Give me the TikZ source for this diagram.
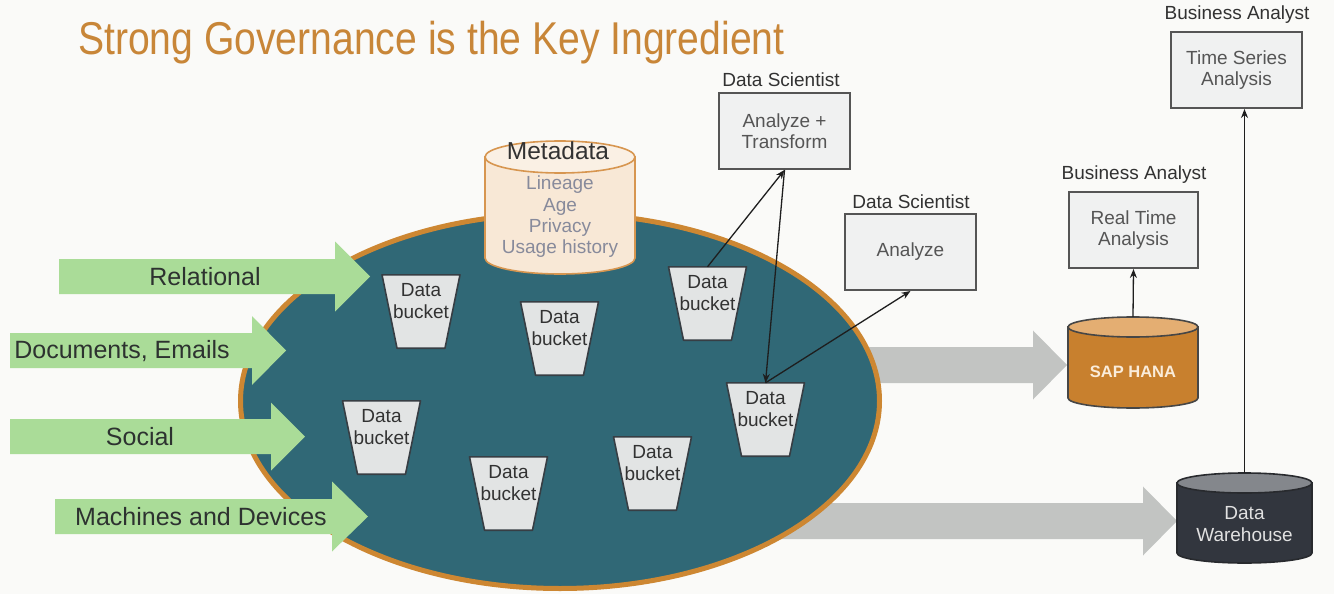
\documentclass[tikz,border=0pt]{standalone}
\usepackage{fontspec}
\setmainfont{Liberation Sans}
\newfontfamily\titlefont[FakeStretch=0.85]{Liberation Sans}
\usetikzlibrary{arrows.meta}
\definecolor{bgc}{RGB}{250,250,248}
\definecolor{titlec}{RGB}{200,134,56}
\definecolor{lakefill}{RGB}{48,104,118}
\definecolor{lakeline}{RGB}{205,135,50}
\definecolor{metafill}{RGB}{248,232,214}
\definecolor{metatop}{RGB}{250,240,228}
\definecolor{metaline}{RGB}{215,150,80}
\definecolor{metatxt}{RGB}{135,138,155}
\definecolor{greenc}{RGB}{170,220,152}
\definecolor{grayarrow}{RGB}{194,196,194}
\definecolor{bucketfill}{RGB}{226,228,228}
\definecolor{bucketline}{RGB}{55,62,68}
\definecolor{boxfill}{RGB}{240,241,241}
\definecolor{boxline}{RGB}{85,85,85}
\definecolor{boxtxt}{RGB}{85,85,85}
\definecolor{roletxt}{RGB}{50,50,50}
\definecolor{darktxt}{RGB}{45,50,48}
\definecolor{hanafill}{RGB}{200,128,46}
\definecolor{hanatop}{RGB}{228,174,114}
\definecolor{hanaline}{RGB}{70,70,70}
\definecolor{hanatxt}{RGB}{250,236,218}
\definecolor{dwfill}{RGB}{50,54,62}
\definecolor{dwtop}{RGB}{132,135,140}
\definecolor{dwline}{RGB}{40,42,46}
\definecolor{dwtxt}{RGB}{225,225,225}
\definecolor{linkc}{RGB}{30,30,30}
\newcommand\blockarrow[7]{%
  \fill[#7] (#1,#4-#5) -- (#2,#4-#5) -- (#2,#4-#6) -- (#3,#4) -- (#2,#4+#6) -- (#2,#4+#5) -- (#1,#4+#5) -- cycle;}
\newcommand\cylshape[8]{%
  \filldraw[fill=#6, draw=#8, line width=1.6pt] (#1-#4,#2) -- (#1-#4,#3) arc[start angle=180,end angle=360,x radius=#4pt,y radius=#5pt] -- (#1+#4,#2) -- cycle;
  \filldraw[fill=#7, draw=#8, line width=1.6pt] (#1,#2) ellipse[x radius=#4pt, y radius=#5pt];}
\newcommand\dbucket[3]{%
  \node[bucketnode] (#1) at (#2,#3) {};
  \filldraw[bucketshape] ([xshift=-39pt]#1.north) -- ([xshift=39pt]#1.north) -- ([xshift=24pt]#1.south) -- ([xshift=-24pt]#1.south) -- cycle;
  \node[buckettext] at ([yshift=-26.5pt]#1.north) {Data\\bucket};}
\begin{document}
\begin{tikzpicture}[x=1pt,y=-1pt,
  small/.style={font=\fontsize{19}{21.5}\selectfont, align=center, inner sep=0pt},
  box/.style={small, text=boxtxt, draw=boxline, line width=2pt, fill=boxfill, minimum width=131, minimum height=76},
  role/.style={small, text=roletxt},
  feed/.style={font=\fontsize{25}{28}\selectfont, text=darktxt, inner sep=0pt},
  bucketnode/.style={inner sep=0pt, minimum width=78, minimum height=73},
  bucketshape/.style={fill=bucketfill, draw=bucketline, line width=1.6pt, line join=round},
  buckettext/.style={small, text=roletxt},
  holder/.style={inner sep=0pt},
  link/.style={draw=linkc, line width=1.3pt, -{Stealth[length=9pt,width=7pt]}}]
\useasboundingbox (0,0) rectangle (1334,594);
\fill[bgc] (0,0) rectangle (1334,594);
% title
\node[anchor=base west, inner sep=0pt, text=titlec, font=\titlefont\fontsize{46}{50}\selectfont] (title) at (78,55) {Strong Governance is the Key Ingredient};
% gray output arrows (behind the lake)
\blockarrow{820}{1033}{1067}{365}{18}{34.5}{grayarrow}
\blockarrow{760}{1143}{1177}{521}{18}{34.5}{grayarrow}
% lake
\filldraw[fill=lakefill, draw=lakeline, line width=5pt] (560,401) ellipse[x radius=319.5pt, y radius=187.5pt];
% metadata cylinder
\node[holder, minimum width=150, minimum height=134] (meta) at (560,207.5) {};
\cylshape{560}{157}{258}{75}{16}{metafill}{metatop}{metaline}
\node[inner sep=0pt, font=\fontsize{24.5}{27}\selectfont, text=roletxt] (metatitle) at (558,151) {Metadata};
\node[small, text=metatxt, font=\fontsize{19}{21.3}\selectfont] (metalist) at (560,217) {Lineage\\Age\\Privacy\\Usage history};
% green input arrows
\blockarrow{59}{335}{370}{276.5}{17.5}{35}{greenc}
\blockarrow{10}{252}{286}{350.5}{17.5}{34.5}{greenc}
\blockarrow{10}{271}{305}{436.5}{17.5}{34}{greenc}
\blockarrow{55}{332}{368}{516.5}{17.5}{35}{greenc}
\node[feed] (rel) at (205,277) {Relational};
\node[feed] (doc) at (122,351) {Documents, Emails};
\node[feed] (soc) at (140,437) {Social};
\node[feed] (mac) at (201,517) {Machines and Devices};
% data buckets
\dbucket{b1}{421}{311.5}
\dbucket{b2}{559.5}{338.5}
\dbucket{b3}{707.5}{303.5}
\dbucket{b4}{765.5}{419.5}
\dbucket{b5}{381.5}{437.5}
\dbucket{b6}{508.5}{493.5}
\dbucket{b7}{652.5}{473.5}
% analysis boxes
\node[box] (at) at (784.5,131) {Analyze +\\Transform};
\node[role] (atrole) at (781,80) {Data Scientist};
\node[box] (an) at (910.5,252) {Analyze};
\node[role] (anrole) at (911,202) {Data Scientist};
\node[box, minimum width=129] (rta) at (1133.5,230) {Real Time\\Analysis};
\node[role] (rtarole) at (1134,175) {Business Analyst};
\node[box] (tsa) at (1236.5,70) {Time Series\\Analysis};
\node[role] (tsarole) at (1237,15) {Business Analyst};
% SAP HANA
\node[holder, minimum width=130, minimum height=91] (hana) at (1133,362.5) {};
\cylshape{1133}{327}{398}{65}{10}{hanafill}{hanatop}{hanaline}
\node[inner sep=0pt, font=\bfseries\fontsize{16.5}{18}\selectfont, text=hanatxt] (hanatext) at (1133,372) {SAP HANA};
% Data Warehouse
\node[holder, minimum width=135, minimum height=90] (dw) at (1244.5,518) {};
\cylshape{1244.5}{483}{553}{67.5}{10}{dwfill}{dwtop}{dwline}
\node[small, text=dwtxt] (dwtext) at (1244.5,524) {Data\\Warehouse};
% connectors
\draw[link] (b3.north) -- (at.south);
\draw[link] (at.south) -- (b4.north);
\draw[link] (b4.north) -- (an.south);
\draw[link] (hana.north) -- (rta.south);
\draw[link] (dw.north) -- (dw.north |- tsa.south);
\end{tikzpicture}
\end{document}
